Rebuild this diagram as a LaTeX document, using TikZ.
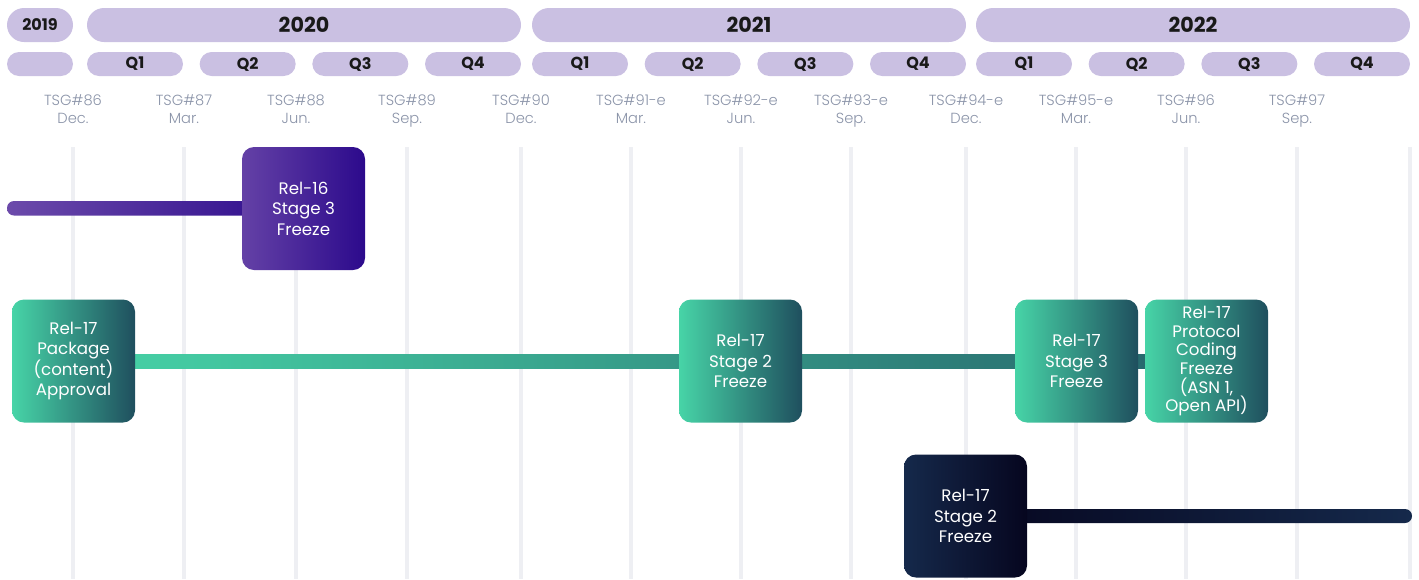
\documentclass[tikz,border=0pt]{standalone}
\usepackage{fontspec}
\setmainfont{Poppins}
\newfontfamily\lightfont{Poppins Light}
\usetikzlibrary{backgrounds,calc}

\definecolor{pillfill}{HTML}{CAC0E2}
\definecolor{gridgray}{HTML}{EEEFF3}
\definecolor{tsggray}{HTML}{8A93A8}
\definecolor{purpleL}{HTML}{6441A6}
\definecolor{purpleR}{HTML}{2C0A8C}
\definecolor{greenL}{HTML}{47D4A7}
\definecolor{greenR}{HTML}{1F4F5E}
\definecolor{greenbarR}{HTML}{26646B}
\definecolor{navyL}{HTML}{15294B}
\definecolor{navyR}{HTML}{06061F}

\begin{document}
\begin{tikzpicture}[x=0.75pt,y=-0.75pt,
    yearpill/.style={fill=pillfill, rounded corners=12.75pt, minimum height=25.5pt,
        minimum width=#1*0.75pt, inner sep=0pt, font=\bfseries\fontsize{15.5}{18}\selectfont, text=black!90},
    qpill/.style={fill=pillfill, rounded corners=9pt, minimum height=18pt,
        minimum width=#1*0.75pt, inner sep=0pt, font=\bfseries\fontsize{12}{14}\selectfont, text=black!90},
    tsg/.style={font=\lightfont\fontsize{11}{13.5}\selectfont, text=tsggray, align=center,
        anchor=north, inner sep=0pt},
    milestone/.style={rounded corners=9pt, minimum width=92.25pt, minimum height=92.25pt,
        inner sep=1pt, text=white, align=center, font=\fontsize{12.5}{15.4}\selectfont},
    purplebox/.style={milestone, left color=purpleL, right color=purpleR},
    greenbox/.style={milestone, left color=greenL, right color=greenR},
    navybox/.style={milestone, left color=navyL, right color=navyR}]

    \useasboundingbox (0,0) rectangle (1419,579);

    % year and quarter header
    \node[yearpill=66, font=\bfseries\fontsize{12}{14}\selectfont] (y2019) at (40,25) {2019};
    \node[qpill=66] (q2019) at (40,64) {};
    \foreach \yr/\s in {2020/87,2021/532,2022/976}{
        \node[yearpill=434] (y\yr) at (\s+217,25) {\yr};
        \foreach \q in {1,...,4}
            \node[qpill=96] (q\yr-\q) at ({\s+48+(\q-1)*112.67},64) {Q\q};
    }

    % TSG meetings
    \foreach \x/\m/\mon [count=\i] in {73/86/Dec.,184/87/Mar.,296/88/Jun.,407/89/Sep.,
        521/90/Dec.,631/91-e/Mar.,741/92-e/Jun.,851/93-e/Sep.,966/94-e/Dec.,
        1076/95-e/Mar.,1186/96/Jun.,1297/97/Sep.}
        \node[tsg] (tsg\i) at (\x,94) {TSG\#\m\\\mon};

    % milestones
    \node[purplebox] (r16s3) at (303.5,208.5) {Rel-16\\Stage 3\\Freeze};
    \node[greenbox] (r17pkg) at (73.5,361) {Rel-17\\Package\\(content)\\Approval};
    \node[greenbox] (r17s2) at (740.5,361) {Rel-17\\Stage 2\\Freeze};
    \node[greenbox] (r17s3) at (1076.5,361) {Rel-17\\Stage 3\\Freeze};
    \node[greenbox, font=\fontsize{12.5}{14}\selectfont] (r17asn) at (1206.5,361)
        {Rel-17\\Protocol\\Coding\\Freeze\\(ASN 1,\\Open API)};
    \node[navybox] (r17s2b) at (965.5,516) {Rel-17\\Stage 2\\Freeze};

    \coordinate (r16start) at (7,208);
    \coordinate (r17end) at (1412,516);

    \begin{pgfonlayer}{background}
        \foreach \x in {73,184,296,407,521,631,741,851,966,1076,1186,1297,1410}
            \draw[gridgray, line width=3pt] (\x,147) -- (\x,579);
        % timelines
        \shade[left color=purpleL!95!white, right color=purpleR, rounded corners=5.25pt]
            ($(r16start)+(0,-7)$) rectangle ($(r16s3.center)+(0,7)$);
        \shade[left color=greenL, right color=greenbarR]
            ($(r17pkg.center)+(0,-7)$) rectangle ($(r17asn.center)+(0,7)$);
        \shade[left color=navyR, right color=navyL, rounded corners=5.25pt]
            ($(r17s2b.center)+(0,-7)$) rectangle ($(r17end)+(0,7)$);
    \end{pgfonlayer}

\end{tikzpicture}
\end{document}
